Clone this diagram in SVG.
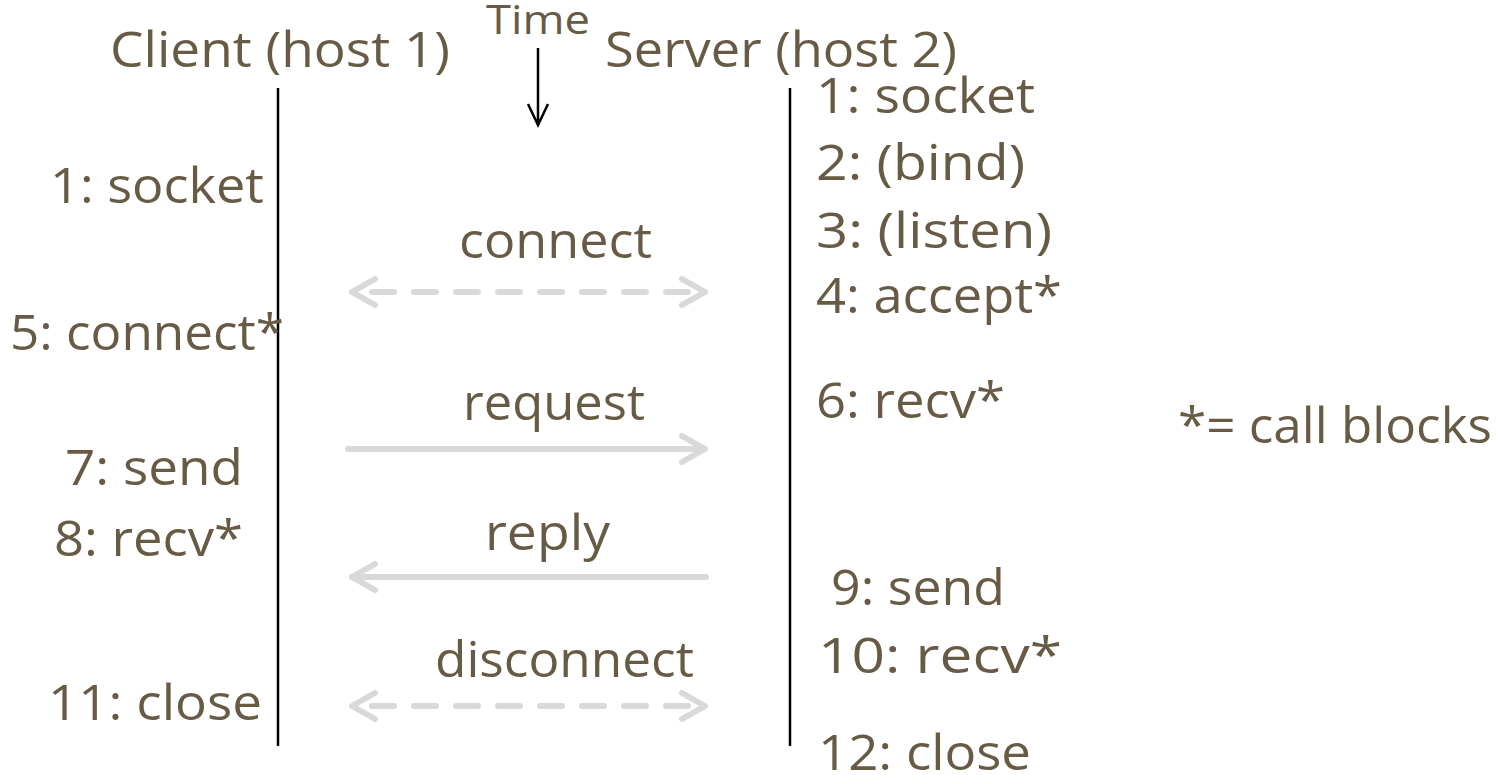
<svg xmlns="http://www.w3.org/2000/svg" width="1497" height="775" viewBox="0 0 1497 775">
  <style>
    text { font-family: "Open Sans", "DejaVu Sans", sans-serif; fill: #675b45; font-size: 50px; }
    .time { font-size: 40px; }
    .life { stroke: #000; stroke-width: 2.5; fill: none; }
    .msg { stroke: #d9d9d9; stroke-width: 6; fill: none; stroke-linecap: round; stroke-linejoin: round; }
    .dash { stroke-dasharray: 22 20; }
    .head { stroke: #d9d9d9; stroke-width: 6; fill: none; stroke-linecap: round; stroke-linejoin: round; }
  </style>
  <rect width="1497" height="775" fill="#fff"/>

  <!-- column headings -->
  <g id="client-header"><text x="110" y="67" textLength="340" lengthAdjust="spacingAndGlyphs">Client (host 1)</text></g>
  <g id="server-header"><text x="605" y="67" textLength="352" lengthAdjust="spacingAndGlyphs">Server (host 2)</text></g>
  <g id="time-label">
    <text class="time" x="486" y="34" textLength="104" lengthAdjust="spacingAndGlyphs">Time</text>
    <path class="life" d="M538 48 V125 M528 104 L538 125 L548 104" stroke-width="2"/>
  </g>

  <!-- lifelines -->
  <g id="lifelines">
    <line class="life" x1="278" y1="88" x2="278" y2="746"/>
    <line class="life" x1="790" y1="88" x2="790" y2="746"/>
  </g>

  <!-- client calls -->
  <g id="client-calls">
    <text x="50" y="203" textLength="214" lengthAdjust="spacingAndGlyphs">1: socket</text>
    <text x="10" y="350" textLength="274" lengthAdjust="spacingAndGlyphs">5: connect*</text>
    <text x="65" y="485" textLength="178" lengthAdjust="spacingAndGlyphs">7: send</text>
    <text x="54" y="556" textLength="189" lengthAdjust="spacingAndGlyphs">8: recv*</text>
    <text x="48" y="720" textLength="214" lengthAdjust="spacingAndGlyphs">11: close</text>
  </g>

  <!-- server calls -->
  <g id="server-calls">
    <text x="816" y="113" textLength="219" lengthAdjust="spacingAndGlyphs">1: socket</text>
    <text x="816" y="180" textLength="209" lengthAdjust="spacingAndGlyphs">2: (bind)</text>
    <text x="816" y="248" textLength="236" lengthAdjust="spacingAndGlyphs">3: (listen)</text>
    <text x="816" y="313" textLength="246" lengthAdjust="spacingAndGlyphs">4: accept*</text>
    <text x="816" y="418" textLength="189" lengthAdjust="spacingAndGlyphs">6: recv*</text>
    <text x="831" y="605" textLength="174" lengthAdjust="spacingAndGlyphs">9: send</text>
    <text x="818" y="673" textLength="244" lengthAdjust="spacingAndGlyphs">10: recv*</text>
    <text x="818" y="770" textLength="213" lengthAdjust="spacingAndGlyphs">12: close</text>
  </g>

  <g id="legend"><text x="1178" y="443" textLength="314" lengthAdjust="spacingAndGlyphs">*= call blocks</text></g>

  <!-- messages between hosts -->
  <g id="connectors">
    <text x="459" y="258" textLength="193" lengthAdjust="spacingAndGlyphs">connect</text>
    <line class="msg dash" x1="372" y1="292" x2="690" y2="292"/>
    <path class="head" d="M375 279 L352 292 L375 305 M682 279 L705 292 L682 305"/>

    <text x="463" y="420" textLength="182" lengthAdjust="spacingAndGlyphs">request</text>
    <line class="msg" x1="348" y1="449" x2="704" y2="449"/>
    <path class="head" d="M682 436 L705 449 L682 462"/>

    <text x="485" y="550" textLength="125" lengthAdjust="spacingAndGlyphs">reply</text>
    <line class="msg" x1="706" y1="577" x2="352" y2="577"/>
    <path class="head" d="M375 564 L352 577 L375 590"/>

    <text x="435" y="677" textLength="259" lengthAdjust="spacingAndGlyphs">disconnect</text>
    <line class="msg dash" x1="372" y1="706" x2="690" y2="706"/>
    <path class="head" d="M375 693 L352 706 L375 719 M682 693 L705 706 L682 719"/>
  </g>
</svg>
